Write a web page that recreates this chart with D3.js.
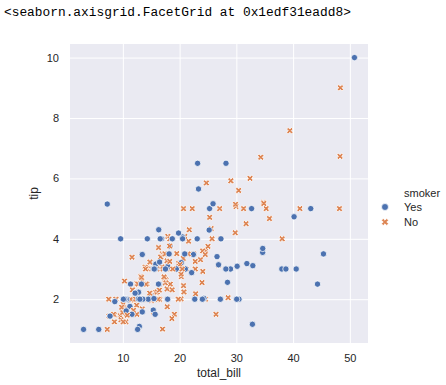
<!DOCTYPE html>
<html>
<head>
<meta charset="utf-8">
<script src="https://cdn.jsdelivr.net/npm/d3@7"></script>
<style>
  body { margin: 0; background: #fff; }
  text { font-family: "Liberation Sans", Arial, sans-serif; fill: #262626; }
  .out { font-family: "Liberation Mono", "DejaVu Sans Mono", monospace; fill: #000; }
</style>
</head>
<body>
<div id="chart"></div>
<script>
// tips dataset: total_bill, tip, smoker (row order kept so overlaps stack the same way)
const totalBill = [
  16.99, 10.34, 21.01, 23.68, 24.59, 25.29, 8.77, 26.88, 15.04, 14.78,
  10.27, 35.26, 15.42, 18.43, 14.83, 21.58, 10.33, 16.29, 16.97, 20.65,
  17.92, 20.29, 15.77, 39.42, 19.82, 17.81, 13.37, 12.69, 21.7, 19.65,
  9.55, 18.35, 15.06, 20.69, 17.78, 24.06, 16.31, 16.93, 18.69, 31.27,
  16.04, 17.46, 13.94, 9.68, 30.4, 18.29, 22.23, 32.4, 28.55, 18.04,
  12.54, 10.29, 34.81, 9.94, 25.56, 19.49, 38.01, 26.41, 11.24, 48.27,
  20.29, 13.81, 11.02, 18.29, 17.59, 20.08, 16.45, 3.07, 20.23, 15.01,
  12.02, 17.07, 26.86, 25.28, 14.73, 10.51, 17.92, 27.2, 22.76, 17.29,
  19.44, 16.66, 10.07, 32.68, 15.98, 34.83, 13.03, 18.28, 24.71, 21.16,
  28.97, 22.49, 5.75, 16.32, 22.75, 40.17, 27.28, 12.03, 21.01, 12.46,
  11.35, 15.38, 44.3, 22.42, 20.92, 15.36, 20.49, 25.21, 18.24, 14.31,
  14.0, 7.25, 38.07, 23.95, 25.71, 17.31, 29.93, 10.65, 12.43, 24.08,
  11.69, 13.42, 14.26, 15.95, 12.48, 29.8, 8.52, 14.52, 11.38, 22.82,
  19.08, 20.27, 11.17, 12.26, 18.26, 8.51, 10.33, 14.15, 16.0, 13.16,
  17.47, 34.3, 41.19, 27.05, 16.43, 8.35, 18.64, 11.87, 9.78, 7.51,
  14.07, 13.13, 17.26, 24.55, 19.77, 29.85, 48.17, 25.0, 13.39, 16.49,
  21.5, 12.66, 16.21, 13.81, 17.51, 24.52, 20.76, 31.71, 10.59, 10.63,
  50.81, 15.81, 7.25, 31.85, 16.82, 32.9, 17.89, 14.48, 9.6, 34.63,
  34.65, 23.33, 45.35, 23.17, 40.55, 20.69, 20.9, 30.46, 18.15, 23.1,
  15.69, 19.81, 28.44, 15.48, 16.58, 7.56, 10.34, 43.11, 13.0, 13.51,
  18.71, 12.74, 13.0, 16.4, 20.53, 16.47, 26.59, 38.73, 24.27, 12.76,
  30.06, 25.89, 48.33, 13.27, 28.17, 12.9, 28.15, 11.59, 7.74, 30.14,
  12.16, 13.42, 8.58, 15.98, 13.42, 16.27, 10.09, 20.45, 13.28, 22.12,
  24.01, 15.69, 11.61, 10.77, 15.53, 10.07, 12.6, 32.83, 35.83, 29.03,
  27.18, 22.67, 17.82, 18.78
];
const tip = [
  1.01, 1.66, 3.5, 3.31, 3.61, 4.71, 2.0, 3.12, 1.96, 3.23,
  1.71, 5.0, 1.57, 3.0, 3.02, 3.92, 1.67, 3.71, 3.5, 3.35,
  4.08, 2.75, 2.23, 7.58, 3.18, 2.34, 2.0, 2.0, 4.3, 3.0,
  1.45, 2.5, 3.0, 2.45, 3.27, 3.6, 2.0, 3.07, 2.31, 5.0,
  2.24, 2.54, 3.06, 1.32, 5.6, 3.0, 5.0, 6.0, 2.05, 3.0,
  2.5, 2.6, 5.2, 1.56, 4.34, 3.51, 3.0, 1.5, 1.76, 6.73,
  3.21, 2.0, 1.98, 3.76, 2.64, 3.15, 2.47, 1.0, 2.01, 2.09,
  1.97, 3.0, 3.14, 5.0, 2.2, 1.25, 3.08, 4.0, 3.0, 2.71,
  3.0, 3.4, 1.83, 5.0, 2.03, 5.17, 2.0, 4.0, 5.85, 3.0,
  3.0, 3.5, 1.0, 4.3, 3.25, 4.73, 4.0, 1.5, 3.0, 1.5,
  2.5, 3.0, 2.5, 3.48, 4.08, 1.64, 4.06, 4.29, 3.76, 4.0,
  3.0, 1.0, 4.0, 2.55, 4.0, 3.5, 5.07, 1.5, 1.8, 2.92,
  2.31, 1.68, 2.5, 2.0, 2.52, 4.2, 1.48, 2.0, 2.0, 2.18,
  1.5, 2.83, 1.5, 2.0, 3.25, 1.25, 2.0, 2.0, 2.0, 2.75,
  3.5, 6.7, 5.0, 5.0, 2.3, 1.5, 1.36, 1.63, 1.73, 2.0,
  2.5, 2.0, 2.74, 2.0, 2.0, 5.14, 5.0, 3.75, 2.61, 2.0,
  3.5, 2.5, 2.0, 2.0, 3.0, 3.48, 2.24, 4.5, 1.61, 2.0,
  10.0, 3.16, 5.15, 3.18, 4.0, 3.11, 2.0, 2.0, 4.0, 3.55,
  3.68, 5.65, 3.5, 6.5, 3.0, 5.0, 3.5, 2.0, 3.5, 4.0,
  1.5, 4.19, 2.56, 2.02, 4.0, 1.44, 2.0, 5.0, 2.0, 2.0,
  4.0, 2.01, 2.0, 2.5, 4.0, 3.23, 3.41, 3.0, 2.03, 2.23,
  2.0, 5.16, 9.0, 2.5, 6.5, 1.1, 3.0, 1.5, 1.44, 3.09,
  2.2, 3.48, 1.92, 3.0, 1.58, 2.5, 2.0, 3.0, 2.72, 2.88,
  2.0, 3.0, 3.39, 1.47, 3.0, 1.25, 1.0, 1.17, 4.67, 5.92,
  2.0, 2.0, 1.75, 3.0
];
const smoker = [
  "No","No","No","No","No","No","No","No","No","No",
  "No","No","No","No","No","No","No","No","No","No",
  "No","No","No","No","No","No","No","No","No","No",
  "No","No","No","No","No","No","No","No","No","No",
  "No","No","No","No","No","No","No","No","No","No",
  "No","No","No","No","No","No","Yes","No","Yes","No",
  "Yes","Yes","Yes","Yes","No","No","No","Yes","No","Yes",
  "No","No","Yes","Yes","No","No","Yes","No","No","No",
  "Yes","No","No","Yes","No","No","No","No","No","No",
  "Yes","No","Yes","Yes","No","Yes","Yes","Yes","Yes","No",
  "Yes","Yes","Yes","Yes","No","Yes","Yes","Yes","No","Yes",
  "No","No","No","No","No","No","No","No","No","No",
  "No","No","No","No","No","No","No","No","No","No",
  "No","No","No","No","No","No","No","No","Yes","No",
  "No","No","No","No","No","No","No","No","No","No",
  "No","No","No","No","No","No","No","No","No","No",
  "No","No","No","No","Yes","No","No","No","Yes","Yes",
  "Yes","Yes","Yes","Yes","Yes","Yes","Yes","Yes","Yes","Yes",
  "Yes","Yes","Yes","Yes","Yes","No","Yes","Yes","Yes","Yes",
  "Yes","Yes","Yes","Yes","Yes","No","Yes","Yes","Yes","Yes",
  "Yes","Yes","Yes","Yes","Yes","Yes","Yes","Yes","Yes","Yes",
  "Yes","Yes","No","Yes","Yes","Yes","Yes","Yes","Yes","Yes",
  "Yes","Yes","Yes","No","Yes","Yes","Yes","No","No","Yes",
  "Yes","Yes","No","No","Yes","No","Yes","Yes","No","No",
  "Yes","Yes","No","No"
];
const smokerLevels = ["Yes", "No"];
const xTicks = [10, 20, 30, 40, 50];
const yTicks = [2, 4, 6, 8, 10];

const width = 446, height = 385;
const plot = { left: 70, right: 368, top: 44, bottom: 343 };

const data = totalBill.map((b, i) => ({ bill: b, tip: tip[i], smoker: smoker[i] }));

// matplotlib-style 5% margins around the data range
const pad = ([lo, hi]) => [lo - (hi - lo) * 0.05, hi + (hi - lo) * 0.05];

const x = d3.scaleLinear().domain(pad(d3.extent(totalBill))).range([plot.left, plot.right]);
const y = d3.scaleLinear().domain(pad(d3.extent(tip))).range([plot.bottom, plot.top]);
const color = d3.scaleOrdinal().domain(smokerLevels).range(["#4c72b0", "#dd8452"]);
const shape = d3.scaleOrdinal().domain(smokerLevels).range([d3.symbolCircle, d3.symbolCross]);
const symbolSize = { Yes: Math.PI * 10, No: 26 };

const svg = d3.select("#chart").append("svg")
  .attr("width", width)
  .attr("height", height);

svg.append("text")
  .attr("class", "out")
  .attr("x", 4)
  .attr("y", 16)
  .style("font-size", "12.85px")
  .text("<seaborn.axisgrid.FacetGrid at 0x1edf31eadd8>");

svg.append("rect")
  .attr("x", plot.left)
  .attr("y", plot.top)
  .attr("width", plot.right - plot.left)
  .attr("height", plot.bottom - plot.top)
  .attr("fill", "#eaeaf2");

// grid
const xAxis = svg.append("g")
  .attr("transform", `translate(0,${plot.bottom})`)
  .call(d3.axisBottom(x).tickValues(xTicks).tickSize(-(plot.bottom - plot.top)).tickPadding(8));
const yAxis = svg.append("g")
  .attr("transform", `translate(${plot.left},0)`)
  .call(d3.axisLeft(y).tickValues(yTicks).tickSize(-(plot.right - plot.left)).tickPadding(11));

[xAxis, yAxis].forEach(ax => {
  ax.select(".domain").remove();
  ax.selectAll(".tick line").attr("stroke", "#fff").attr("stroke-width", 1);
  ax.selectAll(".tick text")
    .attr("fill", "#262626")
    .style("font-family", "'Liberation Sans', Arial, sans-serif")
    .style("font-size", "11px");
});
xAxis.selectAll(".tick text").attr("dy", null).attr("y", 19);

// points
const symbol = d3.symbol()
  .type(d => shape(d.smoker))
  .size(d => symbolSize[d.smoker]);

svg.append("g")
  .selectAll("path")
  .data(data)
  .join("path")
  .attr("transform", d => `translate(${x(d.bill)},${y(d.tip)}) rotate(${d.smoker === "No" ? 45 : 0})`)
  .attr("d", symbol)
  .attr("fill", d => color(d.smoker))
  .attr("stroke", "#fff")
  .attr("stroke-width", 0.75);

// axis labels
svg.append("text")
  .attr("x", (plot.left + plot.right) / 2)
  .attr("y", 377)
  .attr("text-anchor", "middle")
  .style("font-size", "12px")
  .text("total_bill");

svg.append("text")
  .attr("transform", `translate(38,${(plot.top + plot.bottom) / 2}) rotate(-90)`)
  .attr("text-anchor", "middle")
  .style("font-size", "12px")
  .text("tip");

// legend
const legend = svg.append("g");
legend.append("text")
  .attr("x", 404)
  .attr("y", 192.7)
  .attr("dy", "0.35em")
  .style("font-size", "11px")
  .text("smoker");

const items = legend.selectAll("g.item")
  .data(smokerLevels)
  .join("g")
  .attr("class", "item")
  .attr("transform", (d, i) => `translate(0,${207 + i * 15})`);

items.append("path")
  .attr("transform", d => `translate(385,0) rotate(${d === "No" ? 45 : 0})`)
  .attr("d", d => d3.symbol().type(shape(d)).size(symbolSize[d] * 1.2)())
  .attr("fill", d => color(d))
  .attr("stroke", "#fff")
  .attr("stroke-width", 0.75);

items.append("text")
  .attr("x", 404)
  .attr("dy", "0.35em")
  .style("font-size", "11px")
  .text(d => d);
</script>
</body>
</html>
